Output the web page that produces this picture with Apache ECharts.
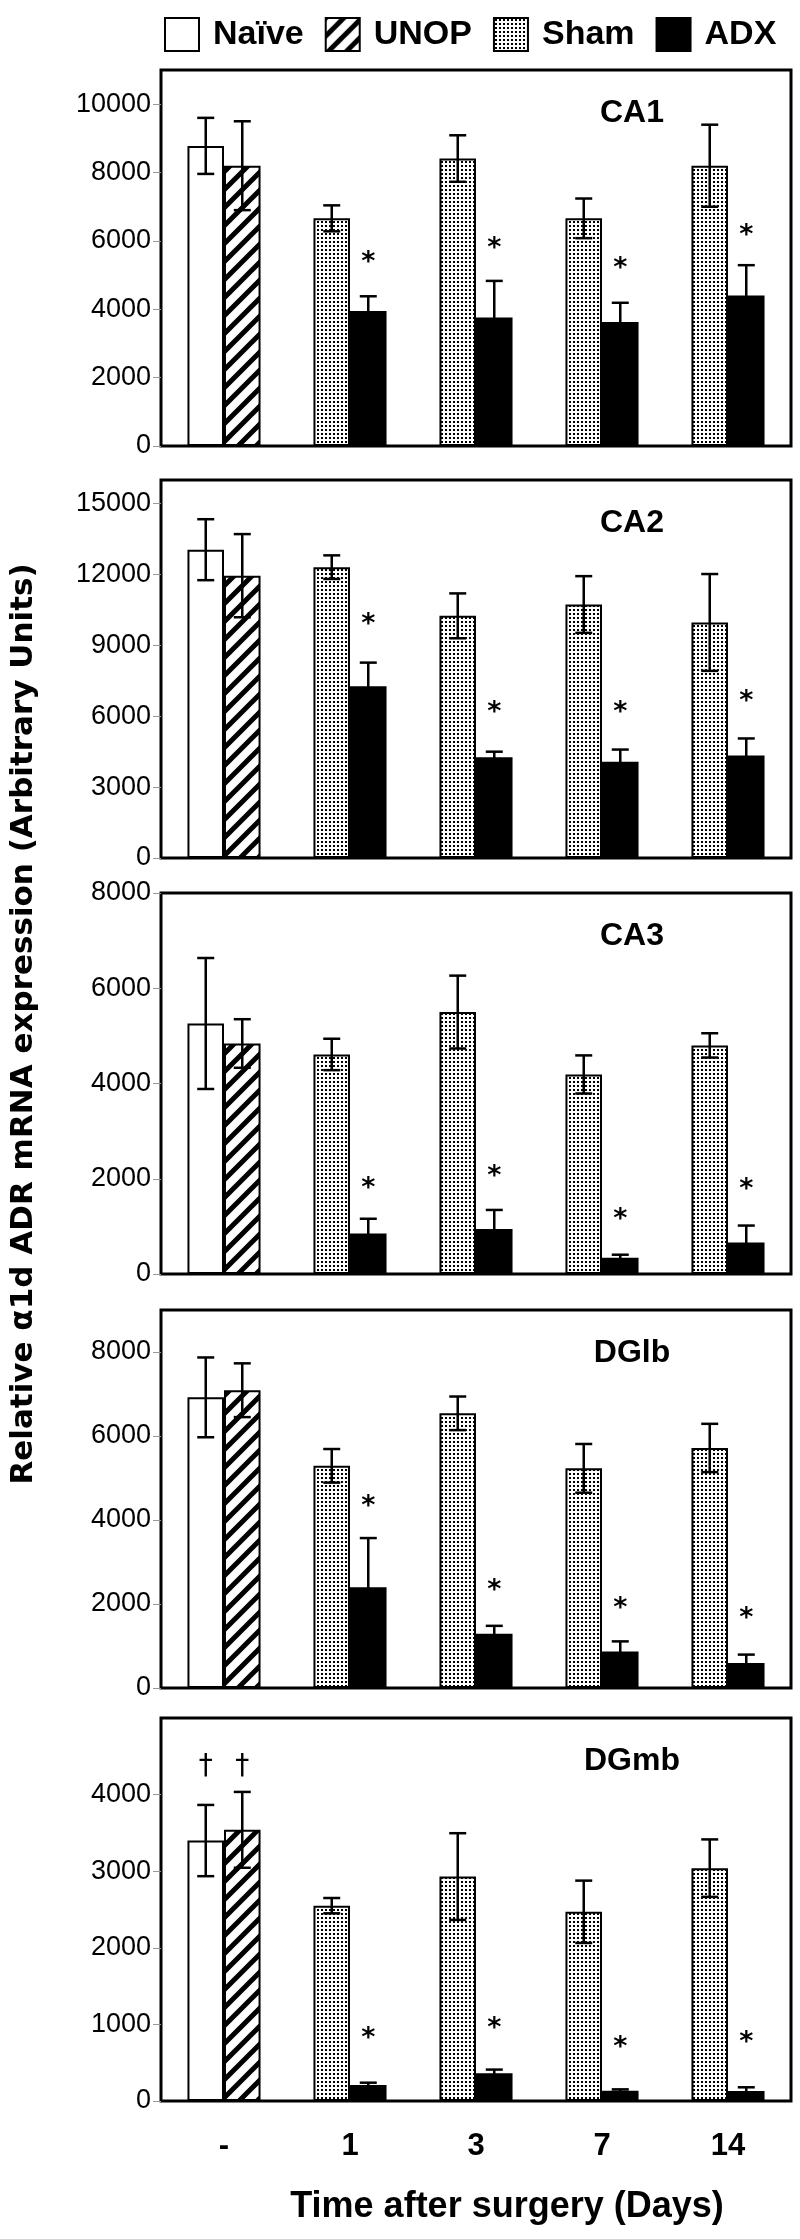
<!DOCTYPE html>
<html><head><meta charset="utf-8">
<script src="https://cdn.jsdelivr.net/npm/echarts@6/dist/echarts.min.js"></script>
<style>html,body{margin:0;padding:0;background:#fff}#c{width:800px;height:2239px}</style>
</head><body><div id="c"></div>
<script>
// ---------- data ----------
const regions = ['CA1', 'CA2', 'CA3', 'DGlb', 'DGmb'];
const days = ['-', '1', '3', '7', '14'];
const naiveMean = [8780, 13050, 5260, 6920, 3400];
const naiveSE   = [820, 1290, 1375, 950, 465];
const unopMean  = [8200, 11950, 4840, 7090, 3540];
const unopSE    = [1300, 1760, 510, 640, 495];
const shamMean = [[6660, 8410, 6660, 8200], [12310, 10250, 10730, 9970], [4610, 5500, 4190, 4800], [5290, 6540, 5230, 5715], [2550, 2930, 2470, 3040]];
const shamSE   = [[380, 680, 580, 1200], [500, 950, 1200, 2050], [330, 765, 400, 255], [400, 400, 580, 575], [100, 566, 407, 375]];
const adxMean  = [[3950, 3760, 3630, 4400], [7270, 4260, 4070, 4340], [850, 945, 340, 660], [2400, 1290, 870, 595], [209, 362, 135, 131]];
const adxSE    = [[430, 1070, 560, 890], [1000, 240, 520, 720], [310, 400, 65, 357], [1170, 190, 240, 200], [30, 48, 17, 48]];
const starY    = [[5520, 5930, 5340, 6320], [10120, 6400, 6380, 6860], [1910, 2160, 1260, 1880], [4460, 2450, 2020, 1790], [884, 1015, 775, 841]];
const daggerY  = [null, null, null, null, 4360];
const yMax  = [11000, 16000, 8000, 9000, 5000];
const yStep = [2000, 3000, 2000, 2000, 1000];
const showTopLabel = [false, false, true, false, false];

// ---------- layout ----------
const gridTop = [70, 480, 893, 1310, 1718];
const gridZero = [446, 858, 1274, 1688, 2101];
const gridLeft = 161, gridRight = 9;
const BAR_FRAC = 0.29;
const SANS = "'Liberation Sans',Arial,sans-serif";

function makeHatch() {
  const s = 18, c = document.createElement('canvas'); c.width = s; c.height = s;
  const g = c.getContext('2d'); g.fillStyle = '#fff'; g.fillRect(0, 0, s, s);
  g.strokeStyle = '#000'; g.lineWidth = 5;
  g.beginPath();
  g.moveTo(-s, s); g.lineTo(s, -s);
  g.moveTo(0, s); g.lineTo(s, 0);
  g.moveTo(0, 2 * s); g.lineTo(2 * s, 0);
  g.stroke();
  return c;
}
function makeDots() {
  const s = 4, c = document.createElement('canvas'); c.width = s; c.height = s;
  const g = c.getContext('2d'); g.fillStyle = '#fff'; g.fillRect(0, 0, s, s);
  g.fillStyle = '#000'; g.fillRect(1, 1, 2, 2);
  return c;
}
const hatch = { image: makeHatch(), repeat: 'repeat' };
const dots = { image: makeDots(), repeat: 'repeat' };

function errRender(params, api) {
  const xi = api.value(0), m = api.value(1), s = api.value(2), slot = api.value(3);
  const bw = api.size([1, 0])[0] * BAR_FRAC;
  const cx = api.coord([xi, m])[0] + slot * bw / 2;
  const yt = api.coord([xi, m + s])[1], yb = api.coord([xi, m - s])[1];
  const st = { stroke: '#000', lineWidth: 2.5 };
  return { type: 'group', children: [
    { type: 'line', shape: { x1: cx, y1: yt, x2: cx, y2: yb }, style: st },
    { type: 'line', shape: { x1: cx - 8.5, y1: yt, x2: cx + 8.5, y2: yt }, style: st },
    { type: 'line', shape: { x1: cx - 8.5, y1: yb, x2: cx + 8.5, y2: yb }, style: st }
  ] };
}
function markRender(txt, font, dy) {
  return function (params, api) {
    const xi = api.value(0), y = api.value(1), slot = api.value(2);
    const bw = api.size([1, 0])[0] * BAR_FRAC;
    const p = api.coord([xi, y]);
    return { type: 'text', x: p[0] + slot * bw / 2, y: p[1] + dy,
      style: { text: txt, font: font, fill: '#000',
        align: 'center', verticalAlign: 'middle', textAlign: 'center', textVerticalAlign: 'middle' } };
  };
}

const grids = [], xAxes = [], yAxes = [], series = [], graphics = [];
const bw = { borderColor: '#000', borderWidth: 2 };
regions.forEach((name, r) => {
  grids.push({ left: gridLeft, right: gridRight, top: gridTop[r], height: gridZero[r] - gridTop[r],
    show: true, borderColor: '#000', borderWidth: 3, containLabel: false });
  const last = r === regions.length - 1;
  xAxes.push({ type: 'category', gridIndex: r, data: days, boundaryGap: true,
    axisLine: { show: false }, axisTick: { show: false },
    axisLabel: { show: last, margin: 30, fontSize: 31, fontWeight: 'bold', fontFamily: SANS, color: '#000' } });
  yAxes.push({ type: 'value', gridIndex: r, min: 0, max: yMax[r], interval: yStep[r],
    axisLine: { show: false }, splitLine: { show: false },
    axisTick: { show: true, length: 8, lineStyle: { color: '#999', width: 1 } },
    axisLabel: { margin: 10, fontSize: 27, fontFamily: SANS, color: '#000', showMaxLabel: showTopLabel[r],
      formatter: v => String(v) } });
  const pad = ['-', '-', '-', '-'];
  series.push({ name: 'Naïve', type: 'bar', xAxisIndex: r, yAxisIndex: r, stack: 'L' + r,
    barWidth: (BAR_FRAC * 100) + '%', barGap: '0%',
    itemStyle: Object.assign({ color: '#fff' }, bw), data: [naiveMean[r]].concat(pad) });
  series.push({ name: 'UNOP', type: 'bar', xAxisIndex: r, yAxisIndex: r, stack: 'R' + r,
    barWidth: (BAR_FRAC * 100) + '%', barGap: '0%',
    itemStyle: Object.assign({ color: hatch }, bw), data: [unopMean[r]].concat(pad) });
  series.push({ name: 'Sham', type: 'bar', xAxisIndex: r, yAxisIndex: r, stack: 'L' + r,
    barWidth: (BAR_FRAC * 100) + '%', barGap: '0%',
    itemStyle: Object.assign({ color: dots }, bw), data: ['-'].concat(shamMean[r]) });
  series.push({ name: 'ADX', type: 'bar', xAxisIndex: r, yAxisIndex: r, stack: 'R' + r,
    barWidth: (BAR_FRAC * 100) + '%', barGap: '0%',
    itemStyle: Object.assign({ color: '#000' }, bw), data: ['-'].concat(adxMean[r]) });
  const err = [[0, naiveMean[r], naiveSE[r], -1], [0, unopMean[r], unopSE[r], 1]];
  shamMean[r].forEach((v, d) => err.push([d + 1, v, shamSE[r][d], -1]));
  adxMean[r].forEach((v, d) => err.push([d + 1, v, adxSE[r][d], 1]));
  series.push({ type: 'custom', xAxisIndex: r, yAxisIndex: r, z: 5, silent: true,
    renderItem: errRender, encode: { x: 0, y: 1 }, data: err });
  series.push({ type: 'custom', xAxisIndex: r, yAxisIndex: r, z: 5, silent: true,
    renderItem: markRender('*', 'bold 27px "DejaVu Sans"', 6), encode: { x: 0, y: 1 },
    data: starY[r].map((v, d) => [d + 1, v, 1]) });
  if (daggerY[r] != null) {
    series.push({ type: 'custom', xAxisIndex: r, yAxisIndex: r, z: 5, silent: true,
      renderItem: markRender('†', '28px "DejaVu Sans"', 0), encode: { x: 0, y: 1 },
      data: [[0, daggerY[r], -1], [0, daggerY[r], 1]] });
  }
  graphics.push({ type: 'text', x: 632, y: gridTop[r] + 43,
    style: { text: name, font: 'bold 32px ' + SANS, fill: '#000',
      align: 'center', verticalAlign: 'middle', textAlign: 'center', textVerticalAlign: 'middle' } });
});
graphics.push({ type: 'text', x: 24, y: 1024, rotation: Math.PI / 2,
  style: { text: 'Relative α1d ADR mRNA expression (Arbitrary Units)', font: 'bold 31px "DejaVu Sans"', fill: '#000',
    align: 'center', verticalAlign: 'middle', textAlign: 'center', textVerticalAlign: 'middle' } });
graphics.push({ type: 'text', x: 507, y: 2207,
  style: { text: 'Time after surgery (Days)', font: 'bold 36px ' + SANS, fill: '#000',
    align: 'center', verticalAlign: 'middle', textAlign: 'center', textVerticalAlign: 'middle' } });

const chart = echarts.init(document.getElementById('c'), null, { renderer: 'canvas' });
chart.setOption({
  animation: false,
  backgroundColor: '#fff',
  legend: { data: ['Naïve', 'UNOP', 'Sham', 'ADX'], left: 159, top: 12, itemWidth: 34, itemHeight: 33, itemGap: 21,
    icon: 'rect', selectedMode: false,
    textStyle: { fontSize: 34, fontWeight: 'bold', fontFamily: SANS, color: '#000', padding: [0, 0, 0, 9] } },
  grid: grids, xAxis: xAxes, yAxis: yAxes, series: series, graphic: graphics
});
</script></body></html>
